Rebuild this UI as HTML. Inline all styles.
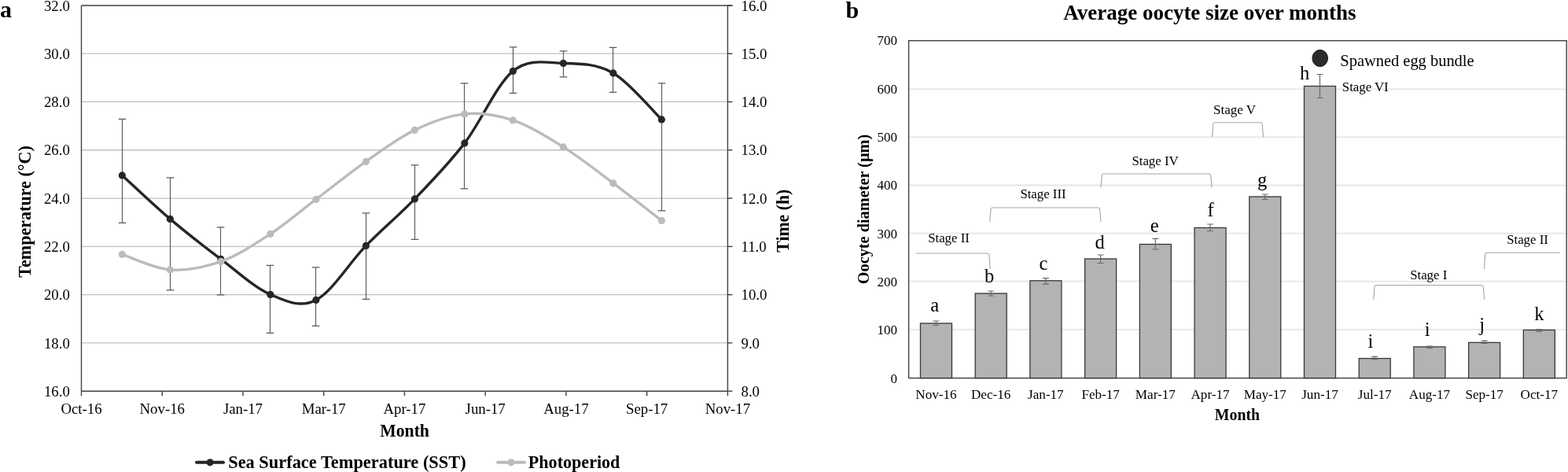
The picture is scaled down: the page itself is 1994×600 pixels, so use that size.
<!DOCTYPE html>
<html><head><meta charset="utf-8"><style>
html,body{margin:0;padding:0;background:#fff;}
svg{display:block;font-family:"Liberation Serif", "Times New Roman", serif;}
</style></head><body>
<svg width="1994" height="600" viewBox="0 0 1994 600">
<rect width="1994" height="600" fill="#fff"/>
<line x1="103.5" y1="68.19" x2="925.4" y2="68.19" stroke="#bfbfbf" stroke-width="1.3"/>
<line x1="103.5" y1="129.47" x2="925.4" y2="129.47" stroke="#bfbfbf" stroke-width="1.3"/>
<line x1="103.5" y1="190.76" x2="925.4" y2="190.76" stroke="#bfbfbf" stroke-width="1.3"/>
<line x1="103.5" y1="252.05" x2="925.4" y2="252.05" stroke="#bfbfbf" stroke-width="1.3"/>
<line x1="103.5" y1="313.34" x2="925.4" y2="313.34" stroke="#bfbfbf" stroke-width="1.3"/>
<line x1="103.5" y1="374.62" x2="925.4" y2="374.62" stroke="#bfbfbf" stroke-width="1.3"/>
<line x1="103.5" y1="435.91" x2="925.4" y2="435.91" stroke="#bfbfbf" stroke-width="1.3"/>
<line x1="103.5" y1="6.9" x2="931.4" y2="6.9" stroke="#404040" stroke-width="1.5"/>
<line x1="103.5" y1="6.9" x2="103.5" y2="497.2" stroke="#404040" stroke-width="1.4"/>
<line x1="925.4" y1="6.9" x2="925.4" y2="497.2" stroke="#404040" stroke-width="1.4"/>
<line x1="103.5" y1="497.2" x2="925.4" y2="497.2" stroke="#404040" stroke-width="1.5"/>
<line x1="925.4" y1="6.9" x2="931.4" y2="6.9" stroke="#404040" stroke-width="1.4"/>
<line x1="925.4" y1="68.19" x2="931.4" y2="68.19" stroke="#404040" stroke-width="1.4"/>
<line x1="925.4" y1="129.47" x2="931.4" y2="129.47" stroke="#404040" stroke-width="1.4"/>
<line x1="925.4" y1="190.76" x2="931.4" y2="190.76" stroke="#404040" stroke-width="1.4"/>
<line x1="925.4" y1="252.05" x2="931.4" y2="252.05" stroke="#404040" stroke-width="1.4"/>
<line x1="925.4" y1="313.34" x2="931.4" y2="313.34" stroke="#404040" stroke-width="1.4"/>
<line x1="925.4" y1="374.62" x2="931.4" y2="374.62" stroke="#404040" stroke-width="1.4"/>
<line x1="925.4" y1="435.91" x2="931.4" y2="435.91" stroke="#404040" stroke-width="1.4"/>
<line x1="925.4" y1="497.2" x2="931.4" y2="497.2" stroke="#404040" stroke-width="1.4"/>
<line x1="103.5" y1="497.2" x2="103.5" y2="503.2" stroke="#404040" stroke-width="1.4"/>
<text x="103.5" y="525.5" font-size="18.8" text-anchor="middle" fill="#000">Oct-16</text>
<line x1="206.24" y1="497.2" x2="206.24" y2="503.2" stroke="#404040" stroke-width="1.4"/>
<text x="206.24" y="525.5" font-size="18.8" text-anchor="middle" fill="#000">Nov-16</text>
<line x1="308.98" y1="497.2" x2="308.98" y2="503.2" stroke="#404040" stroke-width="1.4"/>
<text x="308.98" y="525.5" font-size="18.8" text-anchor="middle" fill="#000">Jan-17</text>
<line x1="411.71" y1="497.2" x2="411.71" y2="503.2" stroke="#404040" stroke-width="1.4"/>
<text x="411.71" y="525.5" font-size="18.8" text-anchor="middle" fill="#000">Mar-17</text>
<line x1="514.45" y1="497.2" x2="514.45" y2="503.2" stroke="#404040" stroke-width="1.4"/>
<text x="514.45" y="525.5" font-size="18.8" text-anchor="middle" fill="#000">Apr-17</text>
<line x1="617.19" y1="497.2" x2="617.19" y2="503.2" stroke="#404040" stroke-width="1.4"/>
<text x="617.19" y="525.5" font-size="18.8" text-anchor="middle" fill="#000">Jun-17</text>
<line x1="719.92" y1="497.2" x2="719.92" y2="503.2" stroke="#404040" stroke-width="1.4"/>
<text x="719.92" y="525.5" font-size="18.8" text-anchor="middle" fill="#000">Aug-17</text>
<line x1="822.66" y1="497.2" x2="822.66" y2="503.2" stroke="#404040" stroke-width="1.4"/>
<text x="822.66" y="525.5" font-size="18.8" text-anchor="middle" fill="#000">Sep-17</text>
<line x1="925.4" y1="497.2" x2="925.4" y2="503.2" stroke="#404040" stroke-width="1.4"/>
<text x="925.4" y="525.5" font-size="18.8" text-anchor="middle" fill="#000">Nov-17</text>
<text x="88.8" y="13.5" font-size="18.8" text-anchor="end" fill="#000">32.0</text>
<text x="942.5" y="13.5" font-size="18.8" text-anchor="start" fill="#000">16.0</text>
<text x="88.8" y="74.79" font-size="18.8" text-anchor="end" fill="#000">30.0</text>
<text x="942.5" y="74.79" font-size="18.8" text-anchor="start" fill="#000">15.0</text>
<text x="88.8" y="136.07" font-size="18.8" text-anchor="end" fill="#000">28.0</text>
<text x="942.5" y="136.07" font-size="18.8" text-anchor="start" fill="#000">14.0</text>
<text x="88.8" y="197.36" font-size="18.8" text-anchor="end" fill="#000">26.0</text>
<text x="942.5" y="197.36" font-size="18.8" text-anchor="start" fill="#000">13.0</text>
<text x="88.8" y="258.65" font-size="18.8" text-anchor="end" fill="#000">24.0</text>
<text x="942.5" y="258.65" font-size="18.8" text-anchor="start" fill="#000">12.0</text>
<text x="88.8" y="319.94" font-size="18.8" text-anchor="end" fill="#000">22.0</text>
<text x="942.5" y="319.94" font-size="18.8" text-anchor="start" fill="#000">11.0</text>
<text x="88.8" y="381.23" font-size="18.8" text-anchor="end" fill="#000">20.0</text>
<text x="942.5" y="381.23" font-size="18.8" text-anchor="start" fill="#000">10.0</text>
<text x="88.8" y="442.51" font-size="18.8" text-anchor="end" fill="#000">18.0</text>
<text x="942.5" y="442.51" font-size="18.8" text-anchor="start" fill="#000">9.0</text>
<text x="88.8" y="503.8" font-size="18.8" text-anchor="end" fill="#000">16.0</text>
<text x="942.5" y="503.8" font-size="18.8" text-anchor="start" fill="#000">8.0</text>
<text x="514.6" y="554.7" font-size="23.2" font-weight="bold" text-anchor="middle" fill="#000" textLength="62.7" lengthAdjust="spacingAndGlyphs">Month</text>
<text transform="translate(38.6,268.9) rotate(-90)" x="0" y="0" font-size="23.5" font-weight="bold" text-anchor="middle" textLength="167.5" lengthAdjust="spacingAndGlyphs">Temperature (°C)</text>
<text transform="translate(1002.6,280.7) rotate(-90)" x="0" y="0" font-size="23.3" font-weight="bold" text-anchor="middle" textLength="80" lengthAdjust="spacingAndGlyphs">Time (h)</text>
<text x="0" y="22.3" font-size="30" font-weight="bold" text-anchor="start" fill="#000">a</text>
<path d="M155.5,151.4V283.4M150.7,151.4H160.3M150.7,283.4H160.3" stroke="#5a5a5a" stroke-width="1.15" fill="none"/>
<path d="M216.5,225.9V368.9M211.7,225.9H221.3M211.7,368.9H221.3" stroke="#5a5a5a" stroke-width="1.15" fill="none"/>
<path d="M280.5,288.9V374.9M275.7,288.9H285.3M275.7,374.9H285.3" stroke="#5a5a5a" stroke-width="1.15" fill="none"/>
<path d="M343.5,337.4V423.4M338.7,337.4H348.3M338.7,423.4H348.3" stroke="#5a5a5a" stroke-width="1.15" fill="none"/>
<path d="M401.5,339.9V414.4M396.7,339.9H406.3M396.7,414.4H406.3" stroke="#5a5a5a" stroke-width="1.15" fill="none"/>
<path d="M465.5,270.9V380.4M460.7,270.9H470.3M460.7,380.4H470.3" stroke="#5a5a5a" stroke-width="1.15" fill="none"/>
<path d="M527.5,209.9V304.4M522.7,209.9H532.3M522.7,304.4H532.3" stroke="#5a5a5a" stroke-width="1.15" fill="none"/>
<path d="M590.5,105.9V239.9M585.7,105.9H595.3M585.7,239.9H595.3" stroke="#5a5a5a" stroke-width="1.15" fill="none"/>
<path d="M652.5,59.9V118.4M647.7,59.9H657.3M647.7,118.4H657.3" stroke="#5a5a5a" stroke-width="1.15" fill="none"/>
<path d="M716.5,64.9V97.9M711.7,64.9H721.3M711.7,97.9H721.3" stroke="#5a5a5a" stroke-width="1.15" fill="none"/>
<path d="M779.5,60.4V117.4M774.7,60.4H784.3M774.7,117.4H784.3" stroke="#5a5a5a" stroke-width="1.15" fill="none"/>
<path d="M841.5,105.9V267.9M836.7,105.9H846.3M836.7,267.9H846.3" stroke="#5a5a5a" stroke-width="1.15" fill="none"/>
<path d="M155.35,222.9 C165.52,232.15 195.43,260.65 216.35,278.4 C237.27,296.15 259.6,313.4 280.85,329.4 C302.1,345.4 323.68,365.73 343.85,374.4 C364.02,383.07 381.6,391.73 401.85,381.4 C422.1,371.07 444.43,333.82 465.35,312.4 C486.27,290.98 506.43,274.65 527.35,252.9 C548.27,231.15 570.02,208.98 590.85,181.9 C611.68,154.82 631.43,107.32 652.35,90.4 C673.27,73.48 695.1,79.98 716.35,80.4 C737.6,80.82 759.02,80.98 779.85,92.9 C800.68,104.82 831.1,142.07 841.35,151.9" fill="none" stroke="#262626" stroke-width="3.4" stroke-linejoin="round" stroke-linecap="round"/>
<circle cx="155.35" cy="222.9" r="4.6" fill="#262626"/>
<circle cx="216.35" cy="278.4" r="4.6" fill="#262626"/>
<circle cx="280.85" cy="329.4" r="4.6" fill="#262626"/>
<circle cx="343.85" cy="374.4" r="4.6" fill="#262626"/>
<circle cx="401.85" cy="381.4" r="4.6" fill="#262626"/>
<circle cx="465.35" cy="312.4" r="4.6" fill="#262626"/>
<circle cx="527.35" cy="252.9" r="4.6" fill="#262626"/>
<circle cx="590.85" cy="181.9" r="4.6" fill="#262626"/>
<circle cx="652.35" cy="90.4" r="4.6" fill="#262626"/>
<circle cx="716.35" cy="80.4" r="4.6" fill="#262626"/>
<circle cx="779.85" cy="92.9" r="4.6" fill="#262626"/>
<circle cx="841.35" cy="151.9" r="4.6" fill="#262626"/>
<path d="M155.35,323.4 C165.52,326.65 195.43,341.4 216.35,342.9 C237.27,344.4 259.6,339.98 280.85,332.4 C302.1,324.82 323.68,310.57 343.85,297.4 C364.02,284.23 381.6,268.73 401.85,253.4 C422.1,238.07 444.43,220.07 465.35,205.4 C486.27,190.73 506.43,175.48 527.35,165.4 C548.27,155.32 570.02,146.98 590.85,144.9 C611.68,142.82 631.43,145.9 652.35,152.9 C673.27,159.9 695.1,173.57 716.35,186.9 C737.6,200.23 759.02,217.32 779.85,232.9 C800.68,248.48 831.1,272.48 841.35,280.4" fill="none" stroke="#bbbbbb" stroke-width="3.4" stroke-linejoin="round" stroke-linecap="round"/>
<circle cx="155.35" cy="323.4" r="4.6" fill="#bbbbbb"/>
<circle cx="216.35" cy="342.9" r="4.6" fill="#bbbbbb"/>
<circle cx="280.85" cy="332.4" r="4.6" fill="#bbbbbb"/>
<circle cx="343.85" cy="297.4" r="4.6" fill="#bbbbbb"/>
<circle cx="401.85" cy="253.4" r="4.6" fill="#bbbbbb"/>
<circle cx="465.35" cy="205.4" r="4.6" fill="#bbbbbb"/>
<circle cx="527.35" cy="165.4" r="4.6" fill="#bbbbbb"/>
<circle cx="590.85" cy="144.9" r="4.6" fill="#bbbbbb"/>
<circle cx="652.35" cy="152.9" r="4.6" fill="#bbbbbb"/>
<circle cx="716.35" cy="186.9" r="4.6" fill="#bbbbbb"/>
<circle cx="779.85" cy="232.9" r="4.6" fill="#bbbbbb"/>
<circle cx="841.35" cy="280.4" r="4.6" fill="#bbbbbb"/>
<line x1="250" y1="587.8" x2="284" y2="587.8" stroke="#262626" stroke-width="4" stroke-linecap="round"/>
<circle cx="267.1" cy="587.8" r="4.6" fill="#262626"/>
<text x="290.2" y="594.6" font-size="22.4" font-weight="bold" text-anchor="start" fill="#000">Sea Surface Temperature (SST)</text>
<line x1="633" y1="587.8" x2="667" y2="587.8" stroke="#bbbbbb" stroke-width="4" stroke-linecap="round"/>
<circle cx="650" cy="587.8" r="4.6" fill="#bbbbbb"/>
<text x="671.8" y="594.6" font-size="22.1" font-weight="bold" text-anchor="start" fill="#000">Photoperiod</text>
<line x1="1155.6" y1="418.8" x2="1992.2" y2="418.8" stroke="#e6e6e6" stroke-width="1.8"/>
<line x1="1155.6" y1="357.7" x2="1992.2" y2="357.7" stroke="#e6e6e6" stroke-width="1.8"/>
<line x1="1155.6" y1="296.6" x2="1992.2" y2="296.6" stroke="#e6e6e6" stroke-width="1.8"/>
<line x1="1155.6" y1="235.5" x2="1992.2" y2="235.5" stroke="#e6e6e6" stroke-width="1.8"/>
<line x1="1155.6" y1="174.4" x2="1992.2" y2="174.4" stroke="#e6e6e6" stroke-width="1.8"/>
<line x1="1155.6" y1="113.3" x2="1992.2" y2="113.3" stroke="#e6e6e6" stroke-width="1.8"/>
<rect x="1155.6" y="51.7" width="836.6" height="428.9" fill="none" stroke="#404040" stroke-width="1.4"/>
<text x="1141" y="486.74" font-size="17" text-anchor="end" fill="#000">0</text>
<text x="1141" y="425.4" font-size="17" text-anchor="end" fill="#000">100</text>
<text x="1141" y="364.06" font-size="17" text-anchor="end" fill="#000">200</text>
<text x="1141" y="302.72" font-size="17" text-anchor="end" fill="#000">300</text>
<text x="1141" y="241.38" font-size="17" text-anchor="end" fill="#000">400</text>
<text x="1141" y="180.04" font-size="17" text-anchor="end" fill="#000">500</text>
<text x="1141" y="118.7" font-size="17" text-anchor="end" fill="#000">600</text>
<text x="1141" y="57.36" font-size="17" text-anchor="end" fill="#000">700</text>
<rect x="1170.46" y="411" width="40" height="69.6" fill="#b3b3b3" stroke="#383838" stroke-width="1.3"/>
<path d="M1190.46,408V413.5M1186.46,408H1194.46M1186.46,413.5H1194.46" stroke="#6a6a6a" stroke-width="1.2" fill="none"/>
<text x="1190.46" y="507.3" font-size="17.1" text-anchor="middle" fill="#000">Nov-16</text>
<rect x="1240.17" y="373" width="40" height="107.6" fill="#b3b3b3" stroke="#383838" stroke-width="1.3"/>
<path d="M1260.17,370V376M1256.17,370H1264.17M1256.17,376H1264.17" stroke="#6a6a6a" stroke-width="1.2" fill="none"/>
<text x="1260.17" y="507.3" font-size="17.1" text-anchor="middle" fill="#000">Dec-16</text>
<rect x="1309.89" y="356.8" width="40" height="123.8" fill="#b3b3b3" stroke="#383838" stroke-width="1.3"/>
<path d="M1329.89,353.7V361.1M1325.89,353.7H1333.89M1325.89,361.1H1333.89" stroke="#6a6a6a" stroke-width="1.2" fill="none"/>
<text x="1329.89" y="507.3" font-size="17.1" text-anchor="middle" fill="#000">Jan-17</text>
<rect x="1379.61" y="329" width="40" height="151.6" fill="#b3b3b3" stroke="#383838" stroke-width="1.3"/>
<path d="M1399.61,324V334.5M1395.61,324H1403.61M1395.61,334.5H1403.61" stroke="#6a6a6a" stroke-width="1.2" fill="none"/>
<text x="1399.61" y="507.3" font-size="17.1" text-anchor="middle" fill="#000">Feb-17</text>
<rect x="1449.33" y="310.5" width="40" height="170.1" fill="#b3b3b3" stroke="#383838" stroke-width="1.3"/>
<path d="M1469.33,303.3V317M1465.33,303.3H1473.33M1465.33,317H1473.33" stroke="#6a6a6a" stroke-width="1.2" fill="none"/>
<text x="1469.33" y="507.3" font-size="17.1" text-anchor="middle" fill="#000">Mar-17</text>
<rect x="1519.04" y="289.5" width="40" height="191.1" fill="#b3b3b3" stroke="#383838" stroke-width="1.3"/>
<path d="M1539.04,285V293.5M1535.04,285H1543.04M1535.04,293.5H1543.04" stroke="#6a6a6a" stroke-width="1.2" fill="none"/>
<text x="1539.04" y="507.3" font-size="17.1" text-anchor="middle" fill="#000">Apr-17</text>
<rect x="1588.76" y="250" width="40" height="230.6" fill="#b3b3b3" stroke="#383838" stroke-width="1.3"/>
<path d="M1608.76,247V253.5M1604.76,247H1612.76M1604.76,253.5H1612.76" stroke="#6a6a6a" stroke-width="1.2" fill="none"/>
<text x="1608.76" y="507.3" font-size="17.1" text-anchor="middle" fill="#000">May-17</text>
<rect x="1658.47" y="109.5" width="40" height="371.1" fill="#b3b3b3" stroke="#383838" stroke-width="1.3"/>
<path d="M1678.47,94.5V124.5M1674.47,94.5H1682.47M1674.47,124.5H1682.47" stroke="#6a6a6a" stroke-width="1.2" fill="none"/>
<text x="1678.47" y="507.3" font-size="17.1" text-anchor="middle" fill="#000">Jun-17</text>
<rect x="1728.19" y="455.6" width="40" height="25" fill="#b3b3b3" stroke="#383838" stroke-width="1.3"/>
<path d="M1748.19,453.4V456.8M1744.19,453.4H1752.19M1744.19,456.8H1752.19" stroke="#6a6a6a" stroke-width="1.2" fill="none"/>
<text x="1748.19" y="507.3" font-size="17.1" text-anchor="middle" fill="#000">Jul-17</text>
<rect x="1797.91" y="440.9" width="40" height="39.7" fill="#b3b3b3" stroke="#383838" stroke-width="1.3"/>
<path d="M1817.91,440V442.5M1813.91,440H1821.91M1813.91,442.5H1821.91" stroke="#6a6a6a" stroke-width="1.2" fill="none"/>
<text x="1817.91" y="507.3" font-size="17.1" text-anchor="middle" fill="#000">Aug-17</text>
<rect x="1867.62" y="435.4" width="40" height="45.2" fill="#b3b3b3" stroke="#383838" stroke-width="1.3"/>
<path d="M1887.62,433.1V436.4M1883.62,433.1H1891.62M1883.62,436.4H1891.62" stroke="#6a6a6a" stroke-width="1.2" fill="none"/>
<text x="1887.62" y="507.3" font-size="17.1" text-anchor="middle" fill="#000">Sep-17</text>
<rect x="1937.34" y="419.5" width="40" height="61.1" fill="#b3b3b3" stroke="#383838" stroke-width="1.3"/>
<path d="M1957.34,418.9V421.3M1953.34,418.9H1961.34M1953.34,421.3H1961.34" stroke="#6a6a6a" stroke-width="1.2" fill="none"/>
<text x="1957.34" y="507.3" font-size="17.1" text-anchor="middle" fill="#000">Oct-17</text>
<text x="1188.7" y="395.5" font-size="24.5" text-anchor="middle" fill="#000">a</text>
<text x="1258.2" y="358.5" font-size="24.5" text-anchor="middle" fill="#000">b</text>
<text x="1327" y="342.6" font-size="24.5" text-anchor="middle" fill="#000">c</text>
<text x="1398.5" y="315.5" font-size="24.5" text-anchor="middle" fill="#000">d</text>
<text x="1468.2" y="294.8" font-size="24.5" text-anchor="middle" fill="#000">e</text>
<text x="1539.6" y="275" font-size="24.5" text-anchor="middle" fill="#000">f</text>
<text x="1605.2" y="237" font-size="24.5" text-anchor="middle" fill="#000">g</text>
<text x="1659.1" y="101" font-size="24.5" text-anchor="middle" fill="#000">h</text>
<text x="1742.9" y="441.5" font-size="24.5" text-anchor="middle" fill="#000">i</text>
<text x="1815.2" y="426.8" font-size="24.5" text-anchor="middle" fill="#000">i</text>
<text x="1884.7" y="420.5" font-size="24.5" text-anchor="middle" fill="#000">j</text>
<text x="1957.3" y="406.7" font-size="24.5" text-anchor="middle" fill="#000">k</text>
<text x="1573.4" y="533.6" font-size="21.6" font-weight="bold" text-anchor="middle" fill="#000" textLength="57.2" lengthAdjust="spacingAndGlyphs">Month</text>
<text transform="translate(1105,266) rotate(-90)" x="0" y="0" font-size="20.5" font-weight="bold" text-anchor="middle" textLength="190.5" lengthAdjust="spacingAndGlyphs">Oocyte diameter (µm)</text>
<text x="1538.4" y="24.6" font-size="27" font-weight="bold" text-anchor="middle" fill="#000">Average oocyte size over months</text>
<text x="1075.4" y="22.6" font-size="30" font-weight="bold" text-anchor="start" fill="#000">b</text>
<path d="M1164.7,322H1256Q1257.8,322 1257.9,324L1259.1,341.8" stroke="#a4a4a4" stroke-width="1.1" fill="none"/>
<path d="M1258.7,282L1260,266Q1260.1,264 1261.9,264H1396.8Q1398.6,264 1398.7,266L1400,282" stroke="#a4a4a4" stroke-width="1.1" fill="none"/>
<path d="M1400,238.5L1401.3,223Q1401.4,221 1403.2,221H1537.8Q1539.6,221 1539.7,223L1541,238.5" stroke="#a4a4a4" stroke-width="1.1" fill="none"/>
<path d="M1541.5,174.3L1542.8,157.7Q1542.9,155.7 1544.7,155.7H1603.3Q1605.1,155.7 1605.2,157.7L1606.5,174.3" stroke="#a4a4a4" stroke-width="1.1" fill="none"/>
<path d="M1746.7,380.7L1748,364.5Q1748.1,362.5 1749.9,362.5H1884.4Q1886.2,362.5 1886.3,364.5L1887.6,380.7" stroke="#a4a4a4" stroke-width="1.1" fill="none"/>
<path d="M1887.5,341.7L1888.6,323.2Q1888.7,321.2 1890.7,321.2H1983.6" stroke="#a4a4a4" stroke-width="1.1" fill="none"/>
<text x="1206.5" y="307.5" font-size="16.8" text-anchor="middle" fill="#000">Stage II</text>
<text x="1326.5" y="251.5" font-size="16.8" text-anchor="middle" fill="#000">Stage III</text>
<text x="1469" y="210" font-size="16.8" text-anchor="middle" fill="#000">Stage IV</text>
<text x="1570" y="145" font-size="17" text-anchor="middle" fill="#000">Stage V</text>
<text x="1706.8" y="116" font-size="16.8" text-anchor="start" fill="#000">Stage VI</text>
<text x="1816.7" y="354.6" font-size="16.8" text-anchor="middle" fill="#000">Stage I</text>
<text x="1942.5" y="310" font-size="16.8" text-anchor="middle" fill="#000">Stage II</text>
<ellipse cx="1678.7" cy="74" rx="9.8" ry="10.6" fill="#2b2b2b" stroke="#111" stroke-width="1"/>
<text x="1704.3" y="83.6" font-size="20.45" text-anchor="start" fill="#000">Spawned egg bundle</text>
</svg>
</body></html>
